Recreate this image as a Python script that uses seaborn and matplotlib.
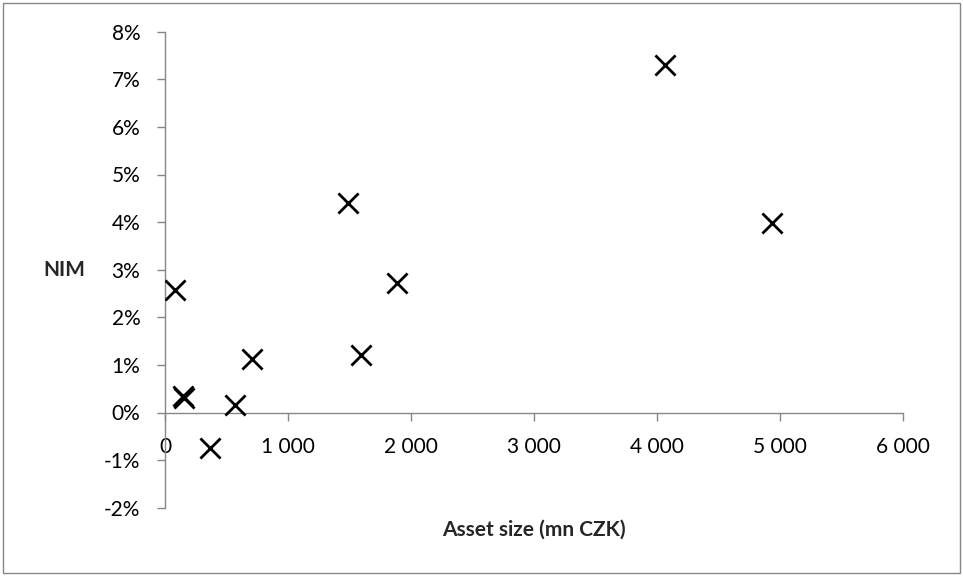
import matplotlib
matplotlib.use("Agg")
import matplotlib.pyplot as plt
from matplotlib.ticker import FuncFormatter
from matplotlib.patches import Rectangle
import seaborn as sns
import pandas as pd

# Data
asset_size = [81, 145, 155, 365, 568, 703, 1490, 1590, 1882, 4065, 4934]   # mn CZK
nim_pct = [2.58, 0.35, 0.30, -0.74, 0.15, 1.13, 4.40, 1.20, 2.72, 7.30, 3.98]  # %

x_ticks = [0, 1000, 2000, 3000, 4000, 5000, 6000]
y_ticks = [-2, -1, 0, 1, 2, 3, 4, 5, 6, 7, 8]

df = pd.DataFrame({"asset": asset_size, "nim": nim_pct})

sns.set_theme(style="white")
plt.rcParams["font.family"] = ["Lato", "DejaVu Sans"]

W, H = 963, 576
fig = plt.figure(figsize=(W / 100, H / 100), dpi=100)
left, right = 165 / W, 903.3 / W
top_px, bot_px = 31.7, 412.5 + 2 * 47.6
ax = fig.add_axes([left, 1 - bot_px / H, right - left, (bot_px - top_px) / H])

sns.scatterplot(data=df, x="asset", y="nim", marker="x", s=210, color="black",
                linewidth=2.0, ax=ax, legend=False, zorder=3)

ax.set_xlim(0, 6000)
ax.set_ylim(-2, 8)
ax.set_xticks(x_ticks)
ax.set_yticks(y_ticks)
ax.xaxis.set_major_formatter(FuncFormatter(lambda v, p: f"{int(v):,}".replace(",", " ")))
ax.yaxis.set_major_formatter(FuncFormatter(lambda v, p: f"{int(round(v))}%"))

spine_col = "#868686"
for s in ["top", "right"]:
    ax.spines[s].set_visible(False)
ax.spines["bottom"].set_position(("data", 0))
for s in ["bottom", "left"]:
    ax.spines[s].set_color(spine_col)
    ax.spines[s].set_linewidth(1.0)
    ax.spines[s].set_zorder(1)

ax.tick_params(axis="x", direction="out", length=5.5, width=1, color=spine_col,
               labelsize=15, labelcolor="black", pad=12, bottom=True)
ax.tick_params(axis="y", direction="out", length=5.8, width=1, color=spine_col,
               labelsize=15, labelcolor="black", pad=12, left=True)
ax.set_xlabel("")
ax.set_ylabel("")
ax.patch.set_alpha(0)

fig.text(64.5 / W, 1 - 270 / H, "NIM", ha="center", va="center",
         fontsize=15, fontweight="bold")
fig.text(534 / W, 1 - 530 / H, "Asset size (mn CZK)", ha="center", va="center",
         fontsize=15, fontweight="bold")

fig.patches.append(Rectangle((3 / W, 3 / H), (960 - 3) / W, (573 - 3) / H,
                             transform=fig.transFigure, fill=False,
                             edgecolor=spine_col, linewidth=1.0))

fig.savefig("out.png", dpi=100)
